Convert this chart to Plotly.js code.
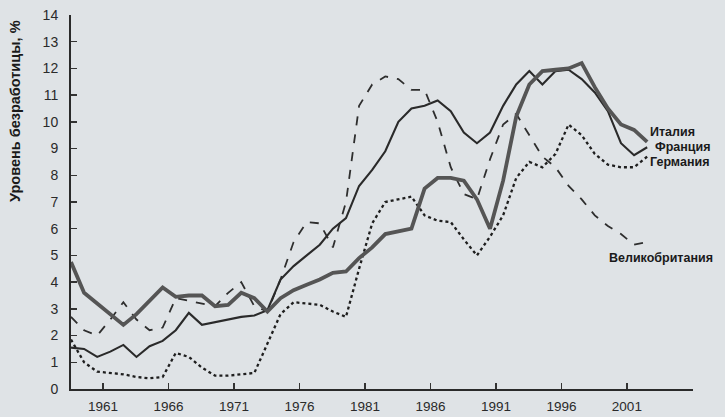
<!DOCTYPE html>
<html>
<head>
<meta charset="utf-8">
<script src="https://cdn.plot.ly/plotly-3.0.1.min.js"></script>
<style>
html,body{margin:0;padding:0;background:#dfe3e6;}
#chart{width:725px;height:417px;}
</style>
</head>
<body>
<div id="chart"></div>
<script>
// Years of observation
const years = [1959,1960,1961,1962,1963,1964,1965,1966,1967,1968,1969,1970,1971,1972,1973,1974,1975,1976,1977,1978,1979,1980,1981,1982,1983,1984,1985,1986,1987,1988,1989,1990,1991,1992,1993,1994,1995,1996,1997,1998,1999,2000,2001,2002,2003];

// Unemployment rate, %
const italy   = [4.75,3.6,3.2,2.8,2.4,2.8,3.3,3.8,3.45,3.5,3.5,3.1,3.15,3.6,3.4,2.9,3.4,3.7,3.9,4.1,4.35,4.4,4.9,5.3,5.8,5.9,6.0,7.5,7.9,7.9,7.8,7.1,6.0,7.8,10.2,11.4,11.9,11.95,12.0,12.2,11.3,10.5,9.9,9.7,9.25];
const france  = [1.55,1.5,1.2,1.4,1.65,1.2,1.6,1.8,2.2,2.85,2.4,2.5,2.6,2.7,2.75,2.95,4.1,4.6,5.0,5.4,6.0,6.4,7.6,8.2,8.9,10.0,10.5,10.6,10.8,10.4,9.6,9.2,9.6,10.6,11.4,11.9,11.4,11.9,11.95,11.6,11.1,10.4,9.2,8.75,9.05];
const germany = [1.85,1.0,0.65,0.6,0.55,0.45,0.4,0.45,1.35,1.2,0.8,0.5,0.5,0.55,0.6,1.7,2.8,3.25,3.2,3.15,2.9,2.7,4.5,6.2,7.0,7.1,7.2,6.5,6.3,6.25,5.6,5.0,5.7,6.5,7.9,8.5,8.3,8.8,9.9,9.5,8.8,8.4,8.3,8.3,8.7];
const uk      = [2.7,2.2,2.0,2.6,3.25,2.6,2.2,2.3,3.4,3.3,3.2,3.1,3.6,4.0,3.1,2.9,4.1,5.5,6.25,6.2,5.3,7.0,10.6,11.4,11.7,11.6,11.2,11.2,10.0,8.3,7.3,7.1,8.6,9.9,10.3,9.5,8.7,8.3,7.6,7.1,6.5,6.1,5.8,5.4,5.5];

const tickYears = [1961,1966,1971,1976,1981,1986,1991,1996,2001];
const seriesNames = ['Италия','Франция','Германия','Великобритания'];
const yTitle = 'Уровень безработицы, %';

const traces = [
  {x: years, y: uk, mode:'lines', name: seriesNames[3], line:{color:'#2e2e2e', width:1.8, dash:'dash'}},
  {x: years, y: germany, mode:'lines', name: seriesNames[2], line:{color:'#1e1e1e', width:2.3, dash:'dot'}},
  {x: years, y: france, mode:'lines', name: seriesNames[1], line:{color:'#2a2a2a', width:2.1}},
  {x: years, y: italy, mode:'lines', name: seriesNames[0], line:{color:'#555555', width:3.8}}
];

const lblFont = {family:'Liberation Sans, Arial, sans-serif', size:12.5, color:'#1a1a1a', weight:'bold'};

const layout = {
  width:725, height:417,
  margin:{l:71, r:32, t:15, b:28, pad:0},
  paper_bgcolor:'#dfe3e6',
  plot_bgcolor:'#dfe3e6',
  showlegend:false,
  font:{family:'Liberation Sans, Arial, sans-serif', size:13, color:'#2a2a2a'},
  xaxis:{
    range:[1959, 2006.5],
    tickvals: tickYears.map(v => v + 0.45),
    ticktext: tickYears.map(String),
    ticks:'inside', ticklen:6, tickwidth:1.5, tickcolor:'#333',
    showline:true, linewidth:2, linecolor:'#2a2a2a',
    showgrid:false, zeroline:false,
    tickfont:{size:13.5, color:'#2a2a2a'},
    ticklabelstandoff:4
  },
  yaxis:{
    range:[0,14], dtick:1,
    ticks:'inside', ticklen:6, tickwidth:1.5, tickcolor:'#333',
    showline:true, linewidth:2, linecolor:'#2a2a2a',
    showgrid:false, zeroline:false,
    tickfont:{size:14, color:'#2a2a2a'},
    ticklabelstandoff:8
  },
  annotations:[
    {xref:'paper', yref:'paper', x:(15-71)/622, y:(389-18)/374, xanchor:'center', yanchor:'top', textangle:-90,
     text:yTitle, showarrow:false, font:{family:'Liberation Sans, Arial, sans-serif', size:14.5, color:'#1a1a1a', weight:'bold'}},
    {xref:'paper', yref:'paper', x:(648-71)/622, y:(389-132)/374, xanchor:'left', yanchor:'middle', text:seriesNames[0], showarrow:false, font:lblFont},
    {xref:'paper', yref:'paper', x:(653-71)/622, y:(389-147)/374, xanchor:'left', yanchor:'middle', text:seriesNames[1], showarrow:false, font:lblFont},
    {xref:'paper', yref:'paper', x:(648-71)/622, y:(389-162)/374, xanchor:'left', yanchor:'middle', text:seriesNames[2], showarrow:false, font:lblFont},
    {xref:'paper', yref:'paper', x:(607-71)/622, y:(389-258)/374, xanchor:'left', yanchor:'middle', text:seriesNames[3], showarrow:false, font:lblFont}
  ]
};

Plotly.newPlot('chart', traces, layout, {displayModeBar:false, staticPlot:true});
</script>
</body>
</html>
